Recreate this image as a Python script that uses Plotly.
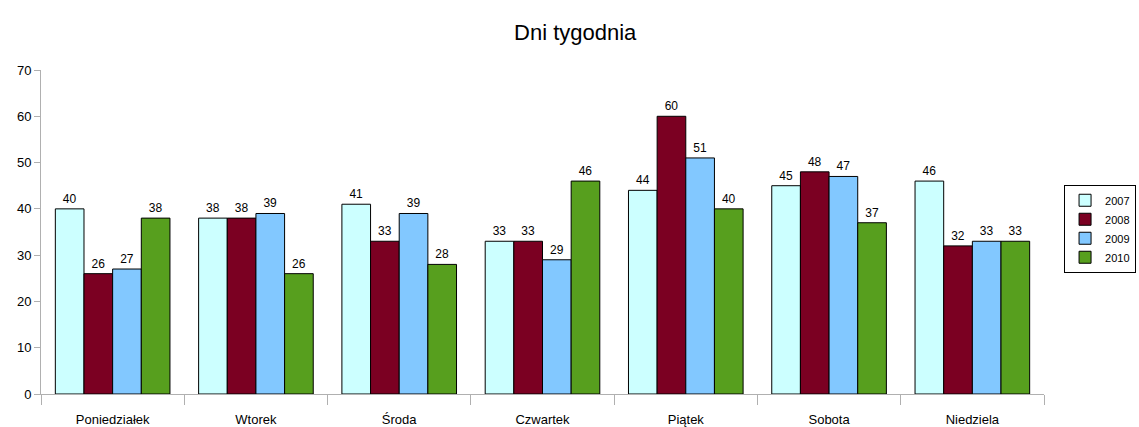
import plotly.graph_objects as go

categories = ["Poniedziałek", "Wtorek", "Środa", "Czwartek", "Piątek", "Sobota", "Niedziela"]
series_names = ["2007", "2008", "2009", "2010"]
v2007 = [40, 38, 41, 33, 44, 45, 46]
v2008 = [26, 38, 33, 33, 60, 48, 32]
v2009 = [27, 39, 39, 29, 51, 47, 33]
v2010 = [38, 26, 28, 46, 40, 37, 33]
colors = ["#CCFFFF", "#7B0022", "#82C8FF", "#579F1E"]

fig = go.Figure()
for name, vals, col in zip(series_names, [v2007, v2008, v2009, v2010], colors):
    fig.add_trace(go.Bar(
        x=categories, y=vals, name=name,
        marker=dict(color=col, line=dict(color="#000000", width=1)),
        text=[str(v) for v in vals], textposition="outside",
        textfont=dict(family="Liberation Sans, Arial", size=12, color="#000000"),
        cliponaxis=False,
    ))

fig.update_layout(
    width=1139, height=427,
    barmode="group", bargap=0.2, bargroupgap=0,
    paper_bgcolor="white", plot_bgcolor="white",
    margin=dict(l=41, r=95, t=70, b=33, autoexpand=False),
    title=dict(text="Dni tygodnia", x=0.505, xanchor="center", y=0.925, yanchor="middle",
               font=dict(family="Liberation Sans, Arial", size=22, color="#000000")),
    font=dict(family="Liberation Sans, Arial", size=13, color="#000000"),
    showlegend=True,
    legend=dict(x=1.02, xanchor="left", y=0.51, yanchor="middle",
                bordercolor="#000000", borderwidth=1, bgcolor="white",
                font=dict(size=11), itemwidth=30, tracegroupgap=0),
)
fig.update_xaxes(
    showline=True, linecolor="#B0B0B0", linewidth=1, automargin=False,
    ticks="outside", tickson="boundaries", ticklen=10, tickcolor="#B0B0B0",
    showgrid=False, tickfont=dict(size=13), ticklabelstandoff=13,
)
fig.update_yaxes(
    range=[0, 70], dtick=10, showline=True, linecolor="#B0B0B0", linewidth=1,
    automargin=False,
    ticks="outside", ticklen=6, tickcolor="#B0B0B0", showgrid=False,
    zeroline=False, tickfont=dict(size=13),
)

fig.write_html("out.html", config={"displayModeBar": False},
               post_script="document.body.style.margin='0';document.body.style.overflow='hidden';")
